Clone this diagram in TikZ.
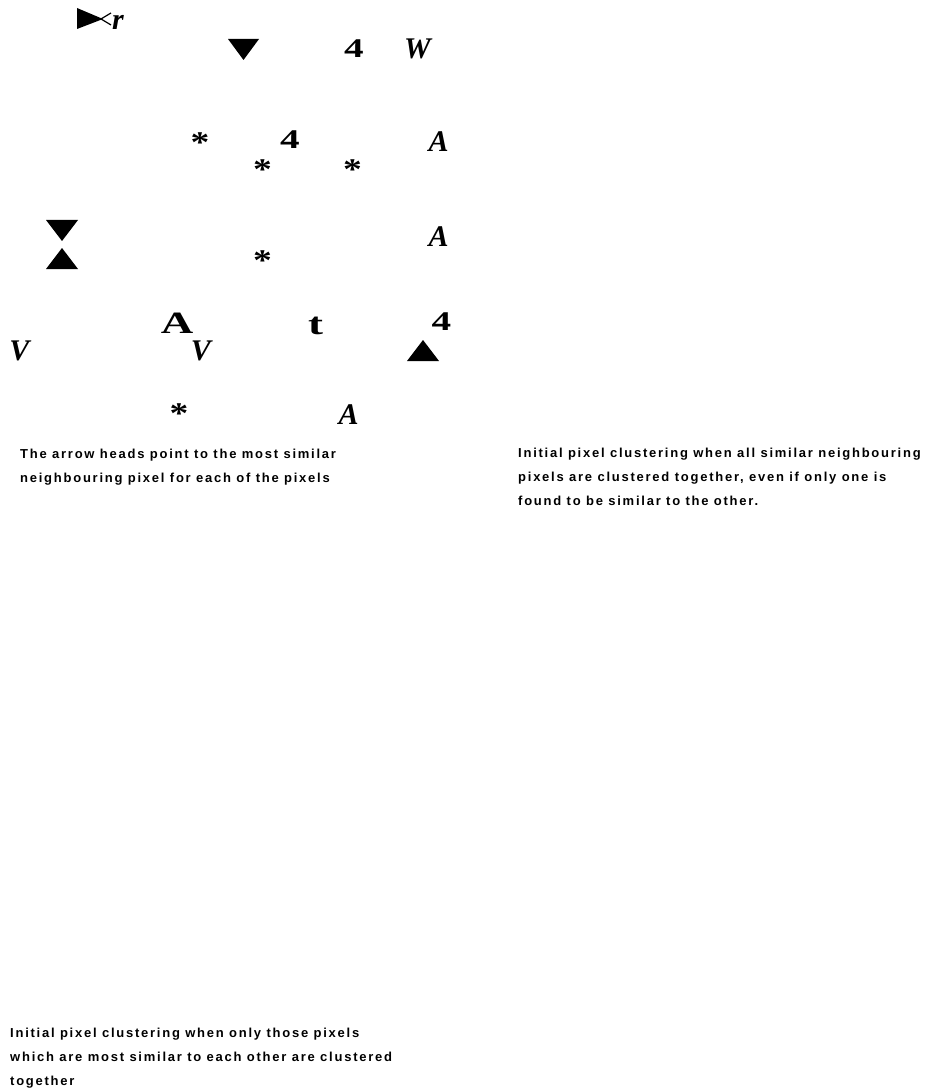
\documentclass[tikz,border=0pt]{standalone}
\usepackage{fontspec}
\setmainfont{Liberation Serif}
\newfontfamily\wideserif[FakeStretch=1.45]{Liberation Serif}
\newfontfamily\starserif[FakeStretch=1.25]{Liberation Serif}
\newfontfamily\capfont[LetterSpace=13.5]{Liberation Sans}
\usetikzlibrary{positioning}

\begin{document}
\begin{tikzpicture}[x=1pt, y=-1pt,
    glyph/.style ={inner sep=0pt, anchor=north, font=\fontsize{30}{30}\selectfont\bfseries\itshape},
    digit/.style ={glyph, font=\wideserif\fontsize{27}{27}\selectfont\bfseries},
    upr/.style   ={glyph, font=\wideserif\fontsize{31}{31}\selectfont\bfseries},
    star/.style  ={glyph, font=\starserif\fontsize{30}{30}\selectfont\bfseries},
    head/.style  ={fill=black},
    capt/.style  ={inner sep=0pt, anchor=north west, align=left,
                   font=\capfont\bfseries\fontsize{13}{24}\selectfont},
]
\useasboundingbox (0,0) rectangle (927,1091);
% top row
\fill[head] (77,8) -- (77,29) -- (103,19) -- cycle;
\draw[line width=1.2pt] (111,13) -- (101,19) -- (111,25);
\node[glyph] (r1) at (118,15) {r};
\fill[head] (228,39) -- (259,39) -- (243.5,60) -- cycle;
\node[digit] (d1) at (354,40) {4};
\node[glyph] (w1) at (417.5,39) {W};
% second row
\node[star]  (s1) at (200,133) {*};
\node[digit] (d2) at (290,131) {4};
\node[glyph] (a1) at (438.5,131) {A};
\node[star]  (s2) at (262.5,160) {*};
\node[star]  (s3) at (352.5,160) {*};
% third row
\fill[head] (46,220) -- (78,220) -- (62,241) -- cycle;
\fill[head] (46,269) -- (78,269) -- (62,248) -- cycle;
\node[glyph] (a2) at (438.5,226) {A};
\node[star]  (s4) at (262.5,251) {*};
% fourth row
\node[upr]   (a3) at (177,313) {A};
\node[upr]   (t1) at (315.5,317) {t};
\node[digit] (d3) at (441.5,313) {4};
\node[glyph] (v1) at (19.5,341) {V};
\node[glyph] (v2) at (201,341) {V};
\fill[head] (407,361) -- (439,361) -- (423,340) -- cycle;
% last row
\node[star]  (s5) at (179,404) {*};
\node[glyph] (a4) at (348.5,404) {A};
% captions
\node[capt] (capl) at (20,449)
     {The arrow heads point to the most similar\\
      neighbouring pixel for each of the pixels};
\node[capt] (capr) at (518,448)
     {Initial pixel clustering when all similar neighbouring\\
      pixels are clustered together, even if only one is\\
      found to be similar to the other.};
\node[capt] (capb) at (10,1028)
     {Initial pixel clustering when only those pixels\\
      which are most similar to each other are clustered\\
      together};
\end{tikzpicture}
\end{document}
